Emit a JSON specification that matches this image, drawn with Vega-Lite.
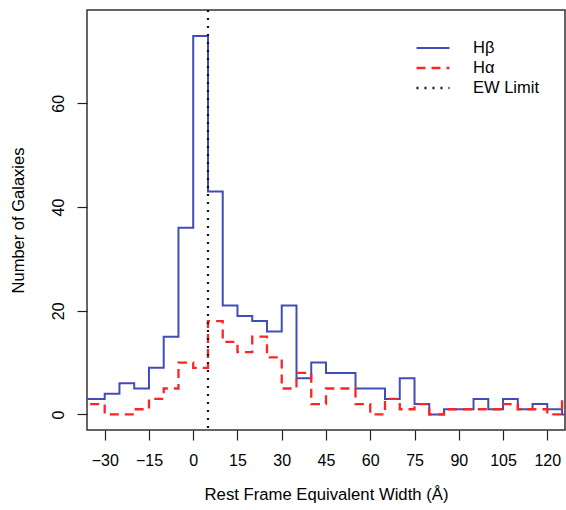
{
  "$schema": "https://vega.github.io/schema/vega-lite/v6.json",
  "width": 478,
  "height": 420,
  "autosize": {"type": "none"},
  "padding": {"left": 87, "top": 10, "right": 1, "bottom": 80},
  "background": "white",
  "config": {
    "font": "Liberation Sans",
    "view": {"stroke": "#333333", "strokeWidth": 1.5},
    "axis": {"grid": false, "domain": false, "tickColor": "#222222", "tickWidth": 1.2, "tickSize": 10, "labelColor": "black", "titleColor": "black", "labelFont": "Liberation Sans", "titleFont": "Liberation Sans", "titleFontWeight": "normal"}
  },
  "datasets": {
    "hist": [
      {"series": "Hβ", "x": -40, "count": 3}, {"series": "Hβ", "x": -35, "count": 3}, {"series": "Hβ", "x": -30, "count": 4},
      {"series": "Hβ", "x": -25, "count": 6}, {"series": "Hβ", "x": -20, "count": 5}, {"series": "Hβ", "x": -15, "count": 9},
      {"series": "Hβ", "x": -10, "count": 15}, {"series": "Hβ", "x": -5, "count": 36}, {"series": "Hβ", "x": 0, "count": 73},
      {"series": "Hβ", "x": 5, "count": 43}, {"series": "Hβ", "x": 10, "count": 21}, {"series": "Hβ", "x": 15, "count": 19},
      {"series": "Hβ", "x": 20, "count": 18}, {"series": "Hβ", "x": 25, "count": 16}, {"series": "Hβ", "x": 30, "count": 21},
      {"series": "Hβ", "x": 35, "count": 7}, {"series": "Hβ", "x": 40, "count": 10}, {"series": "Hβ", "x": 45, "count": 8},
      {"series": "Hβ", "x": 50, "count": 8}, {"series": "Hβ", "x": 55, "count": 5}, {"series": "Hβ", "x": 60, "count": 5},
      {"series": "Hβ", "x": 65, "count": 3}, {"series": "Hβ", "x": 70, "count": 7}, {"series": "Hβ", "x": 75, "count": 2},
      {"series": "Hβ", "x": 80, "count": 0}, {"series": "Hβ", "x": 85, "count": 1}, {"series": "Hβ", "x": 90, "count": 1},
      {"series": "Hβ", "x": 95, "count": 3}, {"series": "Hβ", "x": 100, "count": 1}, {"series": "Hβ", "x": 105, "count": 3},
      {"series": "Hβ", "x": 110, "count": 1}, {"series": "Hβ", "x": 115, "count": 2}, {"series": "Hβ", "x": 120, "count": 1},
      {"series": "Hβ", "x": 125, "count": 0}, {"series": "Hβ", "x": 130, "count": 0},
      {"series": "Hα", "x": -40, "count": 2}, {"series": "Hα", "x": -35, "count": 2}, {"series": "Hα", "x": -30, "count": 0},
      {"series": "Hα", "x": -25, "count": 0}, {"series": "Hα", "x": -20, "count": 1}, {"series": "Hα", "x": -15, "count": 3},
      {"series": "Hα", "x": -10, "count": 5}, {"series": "Hα", "x": -5, "count": 10}, {"series": "Hα", "x": 0, "count": 9},
      {"series": "Hα", "x": 5, "count": 18}, {"series": "Hα", "x": 10, "count": 14}, {"series": "Hα", "x": 15, "count": 12},
      {"series": "Hα", "x": 20, "count": 15}, {"series": "Hα", "x": 25, "count": 11}, {"series": "Hα", "x": 30, "count": 5},
      {"series": "Hα", "x": 35, "count": 8}, {"series": "Hα", "x": 40, "count": 2}, {"series": "Hα", "x": 45, "count": 5},
      {"series": "Hα", "x": 50, "count": 5}, {"series": "Hα", "x": 55, "count": 2}, {"series": "Hα", "x": 60, "count": 0},
      {"series": "Hα", "x": 65, "count": 3}, {"series": "Hα", "x": 70, "count": 1}, {"series": "Hα", "x": 75, "count": 2},
      {"series": "Hα", "x": 80, "count": 0}, {"series": "Hα", "x": 85, "count": 1}, {"series": "Hα", "x": 90, "count": 1},
      {"series": "Hα", "x": 95, "count": 1}, {"series": "Hα", "x": 100, "count": 1}, {"series": "Hα", "x": 105, "count": 2},
      {"series": "Hα", "x": 110, "count": 1}, {"series": "Hα", "x": 115, "count": 1}, {"series": "Hα", "x": 120, "count": 0},
      {"series": "Hα", "x": 125, "count": 3}, {"series": "Hα", "x": 130, "count": 3}
    ],
    "limit": [{"series": "EW Limit", "x": 5}]
  },
  "layer": [
    {
      "data": {"name": "hist"},
      "mark": {"type": "line", "interpolate": "step-after", "clip": true},
      "encoding": {
        "x": {"field": "x", "type": "quantitative",
              "scale": {"domain": [-36, 126], "nice": false, "zero": false},
              "axis": {"values": [-30, -15, 0, 15, 30, 45, 60, 75, 90, 105, 120], "title": "Rest Frame Equivalent Width (Å)", "labelFontSize": 16, "titleFontSize": 16.7, "labelPadding": 12, "titlePadding": 18, "labelFlush": false}},
        "y": {"field": "count", "type": "quantitative",
              "scale": {"domain": [-3, 78], "nice": false, "zero": false},
              "axis": {"values": [0, 20, 40, 60], "title": "Number of Galaxies", "labelFontSize": 16, "titleFontSize": 16.5, "labelAngle": -90, "labelAlign": "center", "labelBaseline": "alphabetic", "labelPadding": 14, "titlePadding": 24}},
        "strokeWidth": {"field": "series", "type": "nominal",
                  "scale": {"domain": ["Hβ", "Hα", "EW Limit"], "range": [2, 2.6, 2.2]}, "legend": null},
        "color": {"field": "series", "type": "nominal",
                  "scale": {"domain": ["Hβ", "Hα", "EW Limit"], "range": ["#3f4db8", "#ff2424", "#111111"]},
                  "legend": {"title": null, "orient": "none", "legendX": 328, "legendY": 28, "symbolType": "stroke", "symbolSize": 1089, "symbolStrokeWidth": 2, "clipHeight": 20, "labelFontSize": 16.5, "labelOffset": 22, "labelColor": "black", "rowPadding": 0}},
        "strokeDash": {"field": "series", "type": "nominal",
                  "scale": {"domain": ["Hβ", "Hα", "EW Limit"], "range": [[1, 0], [9, 6], [2, 6]]},
                  "legend": {"title": null, "orient": "none", "legendX": 328, "legendY": 28, "symbolType": "stroke", "symbolSize": 1089, "symbolStrokeWidth": 2, "clipHeight": 20, "labelFontSize": 16.5, "labelOffset": 22, "labelColor": "black", "rowPadding": 0}}
      }
    },
    {
      "data": {"name": "limit"},
      "mark": {"type": "rule", "strokeWidth": 2.2},
      "encoding": {
        "x": {"field": "x", "type": "quantitative"},
        "color": {"field": "series", "type": "nominal"},
        "strokeDash": {"field": "series", "type": "nominal"}
      }
    }
  ]
}
